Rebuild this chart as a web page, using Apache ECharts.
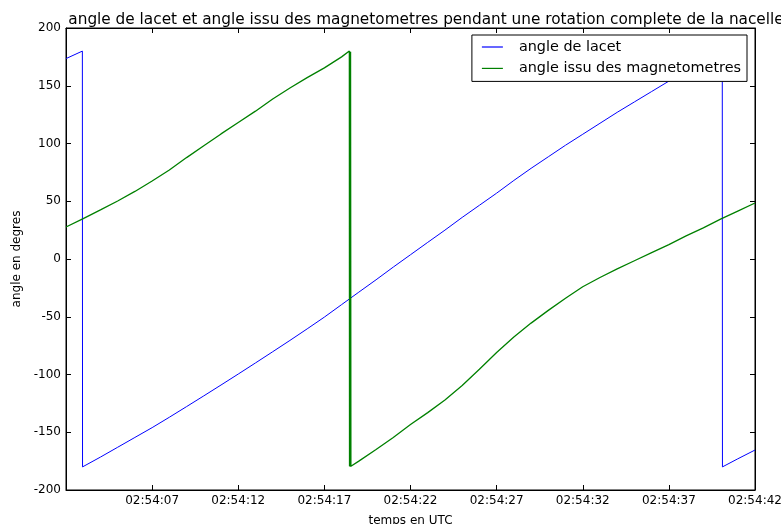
<!DOCTYPE html>
<html>
<head>
<meta charset="utf-8">
<script src="https://cdn.jsdelivr.net/npm/echarts@6/dist/echarts.min.js"></script>
<style>
  html, body { margin: 0; padding: 0; background: #fff; }
  #chart { width: 781px; height: 524px; }
</style>
</head>
<body>
<div id="chart"></div>
<script>
// temps en secondes depuis 02:54:02
var tempsLacet = [0, 0.95, 0.96, 2, 3, 4, 5, 6, 7, 8, 9, 10, 11, 12, 13, 14, 15, 16, 17, 18, 19, 20,
    21, 22, 23, 24, 25, 26, 27, 28, 29, 30, 31, 32, 33, 34, 35, 36, 37, 38.1, 38.11, 39, 40];
var angleLacet = [173.5, 180, -180, -171.5, -163, -154.5, -146, -137, -127.8, -118.5, -109.1, -99.6,
    -90, -80.3, -70.5, -60.5, -50.3, -39.5, -28.7, -18, -7, 3.7, 14.4, 25, 36, 46.5, 57, 68, 78.5,
    88.5, 98.5, 108, 117.5, 127, 136, 145, 154, 162.5, 171, 180, -180, -173, -165.4];

var tempsMag = [0, 1, 2, 3, 4, 5, 6, 7, 8, 9, 10, 11, 12, 13, 14, 15, 16, 16.45, 16.46, 16.48, 16.5,
    16.52, 16.54, 17, 18, 19, 20, 21, 22, 23, 24, 25, 26, 27, 28, 29, 30, 31, 32, 33, 34, 35, 36, 37,
    38, 39, 40];
var angleMag = [27.7, 35, 42.5, 50.2, 58.5, 67.5, 77, 87.8, 98, 108.3, 118.2, 128, 138.5, 148, 157,
    165.5, 175, 180, -179.5, 179.6, -179.8, 179.4, -179.5, -175, -165, -154.5, -143.3, -133, -122,
    -109.5, -95.5, -81, -67.5, -55.5, -44.5, -34, -24, -16, -8.5, -1.5, 5.5, 12.5, 20, 27, 34.5, 41.5, 48.5];

var xTickLabels = ['', '02:54:07', '02:54:12', '02:54:17', '02:54:22', '02:54:27', '02:54:32', '02:54:37', '02:54:42'];

function paires(t, v) {
    return t.map(function(x, i) { return [x, v[i]]; });
}

var police = 'DejaVu Sans';
var chart = echarts.init(document.getElementById('chart'));

var axeX = {
    type: 'value',
    min: 0,
    max: 40,
    interval: 5,
    axisLine: { show: true, onZero: false, lineStyle: { color: '#000', width: 1 } },
    axisTick: { show: true, inside: true, length: 5, lineStyle: { color: '#000' } },
    splitLine: { show: false }
};
var axeY = {
    type: 'value',
    min: -200,
    max: 200,
    interval: 50,
    axisLine: { show: true, onZero: false, lineStyle: { color: '#000', width: 1 } },
    axisTick: { show: true, inside: true, length: 5, lineStyle: { color: '#000' } },
    splitLine: { show: false }
};

chart.setOption({
    animation: false,
    title: {
        text: 'angle de lacet et angle issu des magnetometres pendant une rotation complete de la nacelle',
        left: 421,
        textAlign: 'center',
        top: 8,
        textStyle: { fontFamily: police, fontSize: 15.3, fontWeight: 'normal', color: '#000' }
    },
    grid: {
        left: 66, right: 26, top: 28, bottom: 34,
        outerBoundsMode: 'none',
        containLabel: false,
        show: true, borderColor: '#000', borderWidth: 1
    },
    legend: {
        orient: 'vertical',
        right: 34,
        top: 35,
        padding: [5, 6, 6, 10],
        borderColor: '#000',
        borderWidth: 1,
        backgroundColor: '#fff',
        icon: 'rect',
        itemWidth: 21,
        itemHeight: 1.2,
        itemGap: 7.4,
        textStyle: { fontFamily: police, fontSize: 14.4, color: '#000', padding: [0, 0, 0, 11] },
        data: ['angle de lacet', 'angle issu des magnetometres']
    },
    xAxis: [
        Object.assign({}, axeX, {
            position: 'bottom',
            name: 'temps en UTC',
            nameLocation: 'middle',
            nameGap: 25,
            nameTextStyle: { fontFamily: police, fontSize: 12, color: '#000' },
            axisLabel: {
                fontFamily: police, fontSize: 12, color: '#000', margin: 5,
                formatter: function(v) { return xTickLabels[Math.round(v / 5)] || ''; }
            }
        }),
        Object.assign({}, axeX, { position: 'top', axisLabel: { show: false } })
    ],
    yAxis: [
        Object.assign({}, axeY, {
            position: 'left',
            name: 'angle en degres',
            nameLocation: 'middle',
            nameGap: 40,
            nameTextStyle: { fontFamily: police, fontSize: 12, color: '#000' },
            axisLabel: { fontFamily: police, fontSize: 12, color: '#000', margin: 5 }
        }),
        Object.assign({}, axeY, { position: 'right', axisLabel: { show: false } })
    ],
    series: [
        {
            name: 'angle de lacet',
            type: 'line',
            xAxisIndex: 0,
            yAxisIndex: 0,
            data: paires(tempsLacet, angleLacet),
            symbol: 'none',
            showSymbol: false,
            color: '#0000ff',
            lineStyle: { color: '#0000ff', width: 1 }
        },
        {
            name: 'angle issu des magnetometres',
            type: 'line',
            xAxisIndex: 0,
            yAxisIndex: 0,
            data: paires(tempsMag, angleMag),
            symbol: 'none',
            showSymbol: false,
            color: '#008000',
            lineStyle: { color: '#008000', width: 1.3 }
        }
    ]
});
</script>
</body>
</html>
